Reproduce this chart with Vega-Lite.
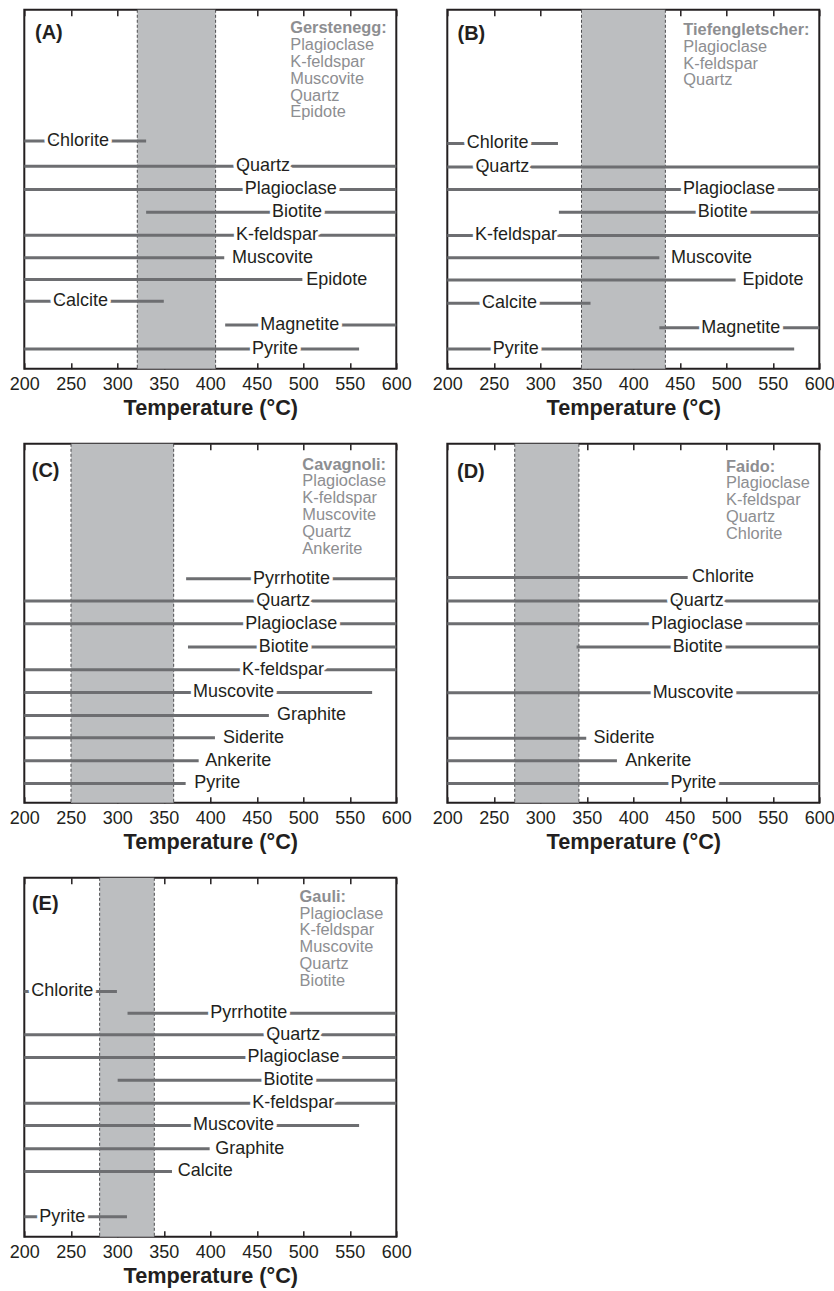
{
  "$schema": "https://vega.github.io/schema/vega-lite/v6.json",
  "background": "white",
  "autosize": {"type": "pad"},
  "padding": {"left": 7.3, "top": 7.8, "right": 0, "bottom": 5},
  "bounds": "flush",
  "columns": 2,
  "spacing": {"row": 75, "column": 51},
  "config": {
    "view": {"stroke": "#231f20", "strokeWidth": 2},
    "font": "Liberation Sans"
  },
  "datasets": {
    "bands": [
      {"panel": "A", "lo": 321.5, "hi": 405.7},
      {"panel": "B", "lo": 344.3, "hi": 434.5},
      {"panel": "C", "lo": 250.2, "hi": 360.6},
      {"panel": "D", "lo": 272.5, "hi": 341.5},
      {"panel": "E", "lo": 281, "hi": 339.8}
    ],
    "tags": [
      {"panel": "A", "tag": "(A)", "tx": 211.5, "ty": 15.02},
      {"panel": "B", "tag": "(B)", "tx": 211, "ty": 14.98},
      {"panel": "C", "tag": "(C)", "tx": 208, "ty": 14.86},
      {"panel": "D", "tag": "(D)", "tx": 210.4, "ty": 14.81},
      {"panel": "E", "tag": "(E)", "tx": 208.2, "ty": 14.89}
    ],
    "legend": [
      {"panel": "A", "head": "Gerstenegg:", "list": "Plagioclase\nK-feldspar\nMuscovite\nQuartz\nEpidote", "lx": 486, "hy": 15.15, "ly": 14.42},
      {"panel": "B", "head": "Tiefengletscher:", "list": "Plagioclase\nK-feldspar\nQuartz", "lx": 453.8, "hy": 15.08, "ly": 14.35},
      {"panel": "C", "head": "Cavagnoli:", "list": "Plagioclase\nK-feldspar\nMuscovite\nQuartz\nAnkerite", "lx": 499, "hy": 15.05, "ly": 14.32},
      {"panel": "D", "head": "Faido:", "list": "Plagioclase\nK-feldspar\nQuartz\nChlorite", "lx": 499.7, "hy": 14.97, "ly": 14.24},
      {"panel": "E", "head": "Gauli:", "list": "Plagioclase\nK-feldspar\nMuscovite\nQuartz\nBiotite", "lx": 496, "hy": 15.13, "ly": 14.4}
    ],
    "rows": [
      {"panel": "A", "mineral": "Chlorite", "slot": 9.91, "start": 200, "end": 331, "lx": 224.4},
      {"panel": "A", "mineral": "Quartz", "slot": 8.81, "start": 200, "end": 600, "lx": 427.6},
      {"panel": "A", "mineral": "Plagioclase", "slot": 7.8, "start": 200, "end": 600, "lx": 437},
      {"panel": "A", "mineral": "Biotite", "slot": 6.81, "start": 331, "end": 600, "lx": 466.3},
      {"panel": "A", "mineral": "K-feldspar", "slot": 5.81, "start": 200, "end": 600, "lx": 427.6},
      {"panel": "A", "mineral": "Muscovite", "slot": 4.83, "start": 200, "end": 415, "lx": 423.3},
      {"panel": "A", "mineral": "Epidote", "slot": 3.88, "start": 200, "end": 499, "lx": 503.2},
      {"panel": "A", "mineral": "Calcite", "slot": 2.94, "start": 200, "end": 350, "lx": 230.8},
      {"panel": "A", "mineral": "Magnetite", "slot": 1.9, "start": 416, "end": 600, "lx": 453.8},
      {"panel": "A", "mineral": "Pyrite", "slot": 0.86, "start": 200, "end": 560, "lx": 444.8},

      {"panel": "B", "mineral": "Chlorite", "slot": 9.8, "start": 200, "end": 319, "lx": 220.8},
      {"panel": "B", "mineral": "Quartz", "slot": 8.78, "start": 200, "end": 600, "lx": 230.2},
      {"panel": "B", "mineral": "Plagioclase", "slot": 7.8, "start": 200, "end": 600, "lx": 453.5},
      {"panel": "B", "mineral": "Biotite", "slot": 6.81, "start": 320, "end": 600, "lx": 469.3},
      {"panel": "B", "mineral": "K-feldspar", "slot": 5.8, "start": 200, "end": 600, "lx": 229.8},
      {"panel": "B", "mineral": "Muscovite", "slot": 4.83, "start": 200, "end": 428, "lx": 440.6},
      {"panel": "B", "mineral": "Epidote", "slot": 3.86, "start": 200, "end": 510, "lx": 517.4},
      {"panel": "B", "mineral": "Calcite", "slot": 2.85, "start": 200, "end": 354, "lx": 237.3},
      {"panel": "B", "mineral": "Magnetite", "slot": 1.78, "start": 428, "end": 600, "lx": 473.2},
      {"panel": "B", "mineral": "Pyrite", "slot": 0.86, "start": 200, "end": 573, "lx": 248.8},

      {"panel": "C", "mineral": "Pyrrhotite", "slot": 9.74, "start": 374, "end": 600, "lx": 445.9},
      {"panel": "C", "mineral": "Quartz", "slot": 8.77, "start": 200, "end": 600, "lx": 449.5},
      {"panel": "C", "mineral": "Plagioclase", "slot": 7.78, "start": 200, "end": 600, "lx": 437.6},
      {"panel": "C", "mineral": "Biotite", "slot": 6.77, "start": 376, "end": 600, "lx": 452},
      {"panel": "C", "mineral": "K-feldspar", "slot": 5.78, "start": 200, "end": 600, "lx": 434},
      {"panel": "C", "mineral": "Muscovite", "slot": 4.8, "start": 200, "end": 574, "lx": 381.4},
      {"panel": "C", "mineral": "Graphite", "slot": 3.8, "start": 200, "end": 463, "lx": 471.7},
      {"panel": "C", "mineral": "Siderite", "slot": 2.83, "start": 200, "end": 405, "lx": 413.6},
      {"panel": "C", "mineral": "Ankerite", "slot": 1.83, "start": 200, "end": 387.5, "lx": 394.6},
      {"panel": "C", "mineral": "Pyrite", "slot": 0.84, "start": 200, "end": 373.5, "lx": 382.8},

      {"panel": "D", "mineral": "Chlorite", "slot": 9.8, "start": 200, "end": 458.5, "lx": 463.2},
      {"panel": "D", "mineral": "Quartz", "slot": 8.77, "start": 200, "end": 600, "lx": 439.1},
      {"panel": "D", "mineral": "Plagioclase", "slot": 7.78, "start": 200, "end": 600, "lx": 419},
      {"panel": "D", "mineral": "Biotite", "slot": 6.77, "start": 339, "end": 600, "lx": 442.4},
      {"panel": "D", "mineral": "Muscovite", "slot": 4.78, "start": 200, "end": 600, "lx": 420.8},
      {"panel": "D", "mineral": "Siderite", "slot": 2.81, "start": 200, "end": 349.4, "lx": 357.3},
      {"panel": "D", "mineral": "Ankerite", "slot": 1.83, "start": 200, "end": 382.4, "lx": 391.4},
      {"panel": "D", "mineral": "Pyrite", "slot": 0.84, "start": 200, "end": 600, "lx": 439.9},

      {"panel": "E", "mineral": "Chlorite", "slot": 10.67, "start": 200, "end": 299.6, "lx": 207.5},
      {"panel": "E", "mineral": "Pyrrhotite", "slot": 9.72, "start": 311, "end": 600, "lx": 400},
      {"panel": "E", "mineral": "Quartz", "slot": 8.78, "start": 200, "end": 600, "lx": 460.2},
      {"panel": "E", "mineral": "Plagioclase", "slot": 7.8, "start": 200, "end": 600, "lx": 440.1},
      {"panel": "E", "mineral": "Biotite", "slot": 6.81, "start": 300.4, "end": 600, "lx": 457.3},
      {"panel": "E", "mineral": "K-feldspar", "slot": 5.81, "start": 200, "end": 600, "lx": 445.2},
      {"panel": "E", "mineral": "Muscovite", "slot": 4.84, "start": 200, "end": 560, "lx": 381.4},
      {"panel": "E", "mineral": "Graphite", "slot": 3.83, "start": 200, "end": 399.3, "lx": 405.4},
      {"panel": "E", "mineral": "Calcite", "slot": 2.84, "start": 200, "end": 358.8, "lx": 364.9},
      {"panel": "E", "mineral": "Pyrite", "slot": 0.87, "start": 200, "end": 310.4, "lx": 216.1}
    ]
  },
  "concat": [
    {
      "width": 372, "height": 359,
      "layer": [
        {"data": {"name": "bands"}, "transform": [{"filter": "datum.panel === 'A'"}],
         "mark": {"type": "rect", "color": "#bcbec0"},
         "encoding": {"x": {"field": "lo", "type": "quantitative", "scale": {"domain": [200, 600], "nice": false, "zero": false},
           "axis": {"orient": "top", "values": [200, 250, 300, 350, 400, 450, 500, 550, 600], "labels": false, "title": null, "domain": false, "grid": false, "tickSize": -6, "tickWidth": 1.5, "tickColor": "#231f20"}},
           "x2": {"field": "hi"}}},
        {"data": {"name": "bands"}, "transform": [{"filter": "datum.panel === 'A'"}],
         "mark": {"type": "rule", "color": "#4d4d4f", "strokeWidth": 1, "strokeDash": [3, 2]},
         "encoding": {"x": {"field": "lo", "type": "quantitative", "axis": null}}},
        {"data": {"name": "bands"}, "transform": [{"filter": "datum.panel === 'A'"}],
         "mark": {"type": "rule", "color": "#4d4d4f", "strokeWidth": 1, "strokeDash": [3, 2]},
         "encoding": {"x": {"field": "hi", "type": "quantitative", "axis": null}}},
        {"data": {"name": "rows"}, "transform": [{"filter": "datum.panel === 'A'"}],
         "mark": {"type": "rule", "color": "#6d6e71", "strokeWidth": 3},
         "encoding": {"x": {"field": "start", "type": "quantitative", "scale": {"domain": [200, 600], "nice": false, "zero": false},
           "axis": {"orient": "bottom", "values": [200, 250, 300, 350, 400, 450, 500, 550, 600], "domain": false, "grid": false, "tickSize": -6, "tickWidth": 1.5, "tickColor": "#231f20", "labelFont": "Liberation Sans", "labelFontSize": 18, "labelColor": "#231f20", "labelPadding": 13, "labelFlush": false, "labelOverlap": false, "title": "Temperature (°C)", "titleFont": "Liberation Sans", "titleFontSize": 21.7, "titleFontWeight": "bold", "titleColor": "#231f20", "titlePadding": 4}},
           "x2": {"field": "end"},
           "y": {"field": "slot", "type": "quantitative", "scale": {"domain": [0, 15.61], "nice": false, "zero": false}, "axis": null}}},
        {"data": {"name": "rows"}, "transform": [{"filter": "datum.panel === 'A'"}],
         "mark": {"type": "text", "align": "left", "baseline": "middle", "font": "Liberation Sans", "fontSize": 18, "fill": "white", "stroke": "white", "strokeWidth": 7, "strokeJoin": "round"},
         "encoding": {"x": {"field": "lx", "type": "quantitative", "axis": null}, "y": {"field": "slot", "type": "quantitative", "axis": null}, "text": {"field": "mineral"}}},
        {"data": {"name": "rows"}, "transform": [{"filter": "datum.panel === 'A'"}],
         "mark": {"type": "text", "align": "left", "baseline": "middle", "font": "Liberation Sans", "fontSize": 18, "color": "#231f20"},
         "encoding": {"x": {"field": "lx", "type": "quantitative", "axis": null}, "y": {"field": "slot", "type": "quantitative", "axis": null}, "text": {"field": "mineral"}}},
        {"data": {"name": "tags"}, "transform": [{"filter": "datum.panel === 'A'"}],
         "mark": {"type": "text", "align": "left", "baseline": "top", "font": "Liberation Sans", "fontSize": 20, "fontWeight": "bold", "color": "#231f20"},
         "encoding": {"x": {"field": "tx", "type": "quantitative", "axis": null}, "y": {"field": "ty", "type": "quantitative", "axis": null}, "text": {"field": "tag"}}},
        {"data": {"name": "legend"}, "transform": [{"filter": "datum.panel === 'A'"}],
         "mark": {"type": "text", "align": "left", "baseline": "top", "font": "Liberation Sans", "fontSize": 16.4, "fontWeight": "bold", "color": "#8d8e91"},
         "encoding": {"x": {"field": "lx", "type": "quantitative", "axis": null}, "y": {"field": "hy", "type": "quantitative", "axis": null}, "text": {"field": "head"}}},
        {"data": {"name": "legend"}, "transform": [{"filter": "datum.panel === 'A'"}],
         "mark": {"type": "text", "align": "left", "baseline": "top", "font": "Liberation Sans", "fontSize": 16.4, "color": "#8d8e91", "lineBreak": "\n", "lineHeight": 16.8},
         "encoding": {"x": {"field": "lx", "type": "quantitative", "axis": null}, "y": {"field": "ly", "type": "quantitative", "axis": null}, "text": {"field": "list"}}}
      ],
      "resolve": {"axis": {"x": "independent", "y": "independent"}}
    },
    {
      "width": 372, "height": 359,
      "layer": [
        {"data": {"name": "bands"}, "transform": [{"filter": "datum.panel === 'B'"}],
         "mark": {"type": "rect", "color": "#bcbec0"},
         "encoding": {"x": {"field": "lo", "type": "quantitative", "scale": {"domain": [200, 600], "nice": false, "zero": false},
           "axis": {"orient": "top", "values": [200, 250, 300, 350, 400, 450, 500, 550, 600], "labels": false, "title": null, "domain": false, "grid": false, "tickSize": -6, "tickWidth": 1.5, "tickColor": "#231f20"}},
           "x2": {"field": "hi"}}},
        {"data": {"name": "bands"}, "transform": [{"filter": "datum.panel === 'B'"}],
         "mark": {"type": "rule", "color": "#4d4d4f", "strokeWidth": 1, "strokeDash": [3, 2]},
         "encoding": {"x": {"field": "lo", "type": "quantitative", "axis": null}}},
        {"data": {"name": "bands"}, "transform": [{"filter": "datum.panel === 'B'"}],
         "mark": {"type": "rule", "color": "#4d4d4f", "strokeWidth": 1, "strokeDash": [3, 2]},
         "encoding": {"x": {"field": "hi", "type": "quantitative", "axis": null}}},
        {"data": {"name": "rows"}, "transform": [{"filter": "datum.panel === 'B'"}],
         "mark": {"type": "rule", "color": "#6d6e71", "strokeWidth": 3},
         "encoding": {"x": {"field": "start", "type": "quantitative", "scale": {"domain": [200, 600], "nice": false, "zero": false},
           "axis": {"orient": "bottom", "values": [200, 250, 300, 350, 400, 450, 500, 550, 600], "domain": false, "grid": false, "tickSize": -6, "tickWidth": 1.5, "tickColor": "#231f20", "labelFont": "Liberation Sans", "labelFontSize": 18, "labelColor": "#231f20", "labelPadding": 13, "labelFlush": false, "labelOverlap": false, "title": "Temperature (°C)", "titleFont": "Liberation Sans", "titleFontSize": 21.7, "titleFontWeight": "bold", "titleColor": "#231f20", "titlePadding": 4}},
           "x2": {"field": "end"},
           "y": {"field": "slot", "type": "quantitative", "scale": {"domain": [0, 15.61], "nice": false, "zero": false}, "axis": null}}},
        {"data": {"name": "rows"}, "transform": [{"filter": "datum.panel === 'B'"}],
         "mark": {"type": "text", "align": "left", "baseline": "middle", "font": "Liberation Sans", "fontSize": 18, "fill": "white", "stroke": "white", "strokeWidth": 7, "strokeJoin": "round"},
         "encoding": {"x": {"field": "lx", "type": "quantitative", "axis": null}, "y": {"field": "slot", "type": "quantitative", "axis": null}, "text": {"field": "mineral"}}},
        {"data": {"name": "rows"}, "transform": [{"filter": "datum.panel === 'B'"}],
         "mark": {"type": "text", "align": "left", "baseline": "middle", "font": "Liberation Sans", "fontSize": 18, "color": "#231f20"},
         "encoding": {"x": {"field": "lx", "type": "quantitative", "axis": null}, "y": {"field": "slot", "type": "quantitative", "axis": null}, "text": {"field": "mineral"}}},
        {"data": {"name": "tags"}, "transform": [{"filter": "datum.panel === 'B'"}],
         "mark": {"type": "text", "align": "left", "baseline": "top", "font": "Liberation Sans", "fontSize": 20, "fontWeight": "bold", "color": "#231f20"},
         "encoding": {"x": {"field": "tx", "type": "quantitative", "axis": null}, "y": {"field": "ty", "type": "quantitative", "axis": null}, "text": {"field": "tag"}}},
        {"data": {"name": "legend"}, "transform": [{"filter": "datum.panel === 'B'"}],
         "mark": {"type": "text", "align": "left", "baseline": "top", "font": "Liberation Sans", "fontSize": 16.4, "fontWeight": "bold", "color": "#8d8e91"},
         "encoding": {"x": {"field": "lx", "type": "quantitative", "axis": null}, "y": {"field": "hy", "type": "quantitative", "axis": null}, "text": {"field": "head"}}},
        {"data": {"name": "legend"}, "transform": [{"filter": "datum.panel === 'B'"}],
         "mark": {"type": "text", "align": "left", "baseline": "top", "font": "Liberation Sans", "fontSize": 16.4, "color": "#8d8e91", "lineBreak": "\n", "lineHeight": 16.8},
         "encoding": {"x": {"field": "lx", "type": "quantitative", "axis": null}, "y": {"field": "ly", "type": "quantitative", "axis": null}, "text": {"field": "list"}}}
      ],
      "resolve": {"axis": {"x": "independent", "y": "independent"}}
    },
    {
      "width": 372, "height": 359,
      "layer": [
        {"data": {"name": "bands"}, "transform": [{"filter": "datum.panel === 'C'"}],
         "mark": {"type": "rect", "color": "#bcbec0"},
         "encoding": {"x": {"field": "lo", "type": "quantitative", "scale": {"domain": [200, 600], "nice": false, "zero": false},
           "axis": {"orient": "top", "values": [200, 250, 300, 350, 400, 450, 500, 550, 600], "labels": false, "title": null, "domain": false, "grid": false, "tickSize": -6, "tickWidth": 1.5, "tickColor": "#231f20"}},
           "x2": {"field": "hi"}}},
        {"data": {"name": "bands"}, "transform": [{"filter": "datum.panel === 'C'"}],
         "mark": {"type": "rule", "color": "#4d4d4f", "strokeWidth": 1, "strokeDash": [3, 2]},
         "encoding": {"x": {"field": "lo", "type": "quantitative", "axis": null}}},
        {"data": {"name": "bands"}, "transform": [{"filter": "datum.panel === 'C'"}],
         "mark": {"type": "rule", "color": "#4d4d4f", "strokeWidth": 1, "strokeDash": [3, 2]},
         "encoding": {"x": {"field": "hi", "type": "quantitative", "axis": null}}},
        {"data": {"name": "rows"}, "transform": [{"filter": "datum.panel === 'C'"}],
         "mark": {"type": "rule", "color": "#6d6e71", "strokeWidth": 3},
         "encoding": {"x": {"field": "start", "type": "quantitative", "scale": {"domain": [200, 600], "nice": false, "zero": false},
           "axis": {"orient": "bottom", "values": [200, 250, 300, 350, 400, 450, 500, 550, 600], "domain": false, "grid": false, "tickSize": -6, "tickWidth": 1.5, "tickColor": "#231f20", "labelFont": "Liberation Sans", "labelFontSize": 18, "labelColor": "#231f20", "labelPadding": 13, "labelFlush": false, "labelOverlap": false, "title": "Temperature (°C)", "titleFont": "Liberation Sans", "titleFontSize": 21.7, "titleFontWeight": "bold", "titleColor": "#231f20", "titlePadding": 4}},
           "x2": {"field": "end"},
           "y": {"field": "slot", "type": "quantitative", "scale": {"domain": [0, 15.61], "nice": false, "zero": false}, "axis": null}}},
        {"data": {"name": "rows"}, "transform": [{"filter": "datum.panel === 'C'"}],
         "mark": {"type": "text", "align": "left", "baseline": "middle", "font": "Liberation Sans", "fontSize": 18, "fill": "white", "stroke": "white", "strokeWidth": 7, "strokeJoin": "round"},
         "encoding": {"x": {"field": "lx", "type": "quantitative", "axis": null}, "y": {"field": "slot", "type": "quantitative", "axis": null}, "text": {"field": "mineral"}}},
        {"data": {"name": "rows"}, "transform": [{"filter": "datum.panel === 'C'"}],
         "mark": {"type": "text", "align": "left", "baseline": "middle", "font": "Liberation Sans", "fontSize": 18, "color": "#231f20"},
         "encoding": {"x": {"field": "lx", "type": "quantitative", "axis": null}, "y": {"field": "slot", "type": "quantitative", "axis": null}, "text": {"field": "mineral"}}},
        {"data": {"name": "tags"}, "transform": [{"filter": "datum.panel === 'C'"}],
         "mark": {"type": "text", "align": "left", "baseline": "top", "font": "Liberation Sans", "fontSize": 20, "fontWeight": "bold", "color": "#231f20"},
         "encoding": {"x": {"field": "tx", "type": "quantitative", "axis": null}, "y": {"field": "ty", "type": "quantitative", "axis": null}, "text": {"field": "tag"}}},
        {"data": {"name": "legend"}, "transform": [{"filter": "datum.panel === 'C'"}],
         "mark": {"type": "text", "align": "left", "baseline": "top", "font": "Liberation Sans", "fontSize": 16.4, "fontWeight": "bold", "color": "#8d8e91"},
         "encoding": {"x": {"field": "lx", "type": "quantitative", "axis": null}, "y": {"field": "hy", "type": "quantitative", "axis": null}, "text": {"field": "head"}}},
        {"data": {"name": "legend"}, "transform": [{"filter": "datum.panel === 'C'"}],
         "mark": {"type": "text", "align": "left", "baseline": "top", "font": "Liberation Sans", "fontSize": 16.4, "color": "#8d8e91", "lineBreak": "\n", "lineHeight": 16.8},
         "encoding": {"x": {"field": "lx", "type": "quantitative", "axis": null}, "y": {"field": "ly", "type": "quantitative", "axis": null}, "text": {"field": "list"}}}
      ],
      "resolve": {"axis": {"x": "independent", "y": "independent"}}
    },
    {
      "width": 372, "height": 359,
      "layer": [
        {"data": {"name": "bands"}, "transform": [{"filter": "datum.panel === 'D'"}],
         "mark": {"type": "rect", "color": "#bcbec0"},
         "encoding": {"x": {"field": "lo", "type": "quantitative", "scale": {"domain": [200, 600], "nice": false, "zero": false},
           "axis": {"orient": "top", "values": [200, 250, 300, 350, 400, 450, 500, 550, 600], "labels": false, "title": null, "domain": false, "grid": false, "tickSize": -6, "tickWidth": 1.5, "tickColor": "#231f20"}},
           "x2": {"field": "hi"}}},
        {"data": {"name": "bands"}, "transform": [{"filter": "datum.panel === 'D'"}],
         "mark": {"type": "rule", "color": "#4d4d4f", "strokeWidth": 1, "strokeDash": [3, 2]},
         "encoding": {"x": {"field": "lo", "type": "quantitative", "axis": null}}},
        {"data": {"name": "bands"}, "transform": [{"filter": "datum.panel === 'D'"}],
         "mark": {"type": "rule", "color": "#4d4d4f", "strokeWidth": 1, "strokeDash": [3, 2]},
         "encoding": {"x": {"field": "hi", "type": "quantitative", "axis": null}}},
        {"data": {"name": "rows"}, "transform": [{"filter": "datum.panel === 'D'"}],
         "mark": {"type": "rule", "color": "#6d6e71", "strokeWidth": 3},
         "encoding": {"x": {"field": "start", "type": "quantitative", "scale": {"domain": [200, 600], "nice": false, "zero": false},
           "axis": {"orient": "bottom", "values": [200, 250, 300, 350, 400, 450, 500, 550, 600], "domain": false, "grid": false, "tickSize": -6, "tickWidth": 1.5, "tickColor": "#231f20", "labelFont": "Liberation Sans", "labelFontSize": 18, "labelColor": "#231f20", "labelPadding": 13, "labelFlush": false, "labelOverlap": false, "title": "Temperature (°C)", "titleFont": "Liberation Sans", "titleFontSize": 21.7, "titleFontWeight": "bold", "titleColor": "#231f20", "titlePadding": 4}},
           "x2": {"field": "end"},
           "y": {"field": "slot", "type": "quantitative", "scale": {"domain": [0, 15.61], "nice": false, "zero": false}, "axis": null}}},
        {"data": {"name": "rows"}, "transform": [{"filter": "datum.panel === 'D'"}],
         "mark": {"type": "text", "align": "left", "baseline": "middle", "font": "Liberation Sans", "fontSize": 18, "fill": "white", "stroke": "white", "strokeWidth": 7, "strokeJoin": "round"},
         "encoding": {"x": {"field": "lx", "type": "quantitative", "axis": null}, "y": {"field": "slot", "type": "quantitative", "axis": null}, "text": {"field": "mineral"}}},
        {"data": {"name": "rows"}, "transform": [{"filter": "datum.panel === 'D'"}],
         "mark": {"type": "text", "align": "left", "baseline": "middle", "font": "Liberation Sans", "fontSize": 18, "color": "#231f20"},
         "encoding": {"x": {"field": "lx", "type": "quantitative", "axis": null}, "y": {"field": "slot", "type": "quantitative", "axis": null}, "text": {"field": "mineral"}}},
        {"data": {"name": "tags"}, "transform": [{"filter": "datum.panel === 'D'"}],
         "mark": {"type": "text", "align": "left", "baseline": "top", "font": "Liberation Sans", "fontSize": 20, "fontWeight": "bold", "color": "#231f20"},
         "encoding": {"x": {"field": "tx", "type": "quantitative", "axis": null}, "y": {"field": "ty", "type": "quantitative", "axis": null}, "text": {"field": "tag"}}},
        {"data": {"name": "legend"}, "transform": [{"filter": "datum.panel === 'D'"}],
         "mark": {"type": "text", "align": "left", "baseline": "top", "font": "Liberation Sans", "fontSize": 16.4, "fontWeight": "bold", "color": "#8d8e91"},
         "encoding": {"x": {"field": "lx", "type": "quantitative", "axis": null}, "y": {"field": "hy", "type": "quantitative", "axis": null}, "text": {"field": "head"}}},
        {"data": {"name": "legend"}, "transform": [{"filter": "datum.panel === 'D'"}],
         "mark": {"type": "text", "align": "left", "baseline": "top", "font": "Liberation Sans", "fontSize": 16.4, "color": "#8d8e91", "lineBreak": "\n", "lineHeight": 16.8},
         "encoding": {"x": {"field": "lx", "type": "quantitative", "axis": null}, "y": {"field": "ly", "type": "quantitative", "axis": null}, "text": {"field": "list"}}}
      ],
      "resolve": {"axis": {"x": "independent", "y": "independent"}}
    },
    {
      "width": 372, "height": 359,
      "layer": [
        {"data": {"name": "bands"}, "transform": [{"filter": "datum.panel === 'E'"}],
         "mark": {"type": "rect", "color": "#bcbec0"},
         "encoding": {"x": {"field": "lo", "type": "quantitative", "scale": {"domain": [200, 600], "nice": false, "zero": false},
           "axis": {"orient": "top", "values": [200, 250, 300, 350, 400, 450, 500, 550, 600], "labels": false, "title": null, "domain": false, "grid": false, "tickSize": -6, "tickWidth": 1.5, "tickColor": "#231f20"}},
           "x2": {"field": "hi"}}},
        {"data": {"name": "bands"}, "transform": [{"filter": "datum.panel === 'E'"}],
         "mark": {"type": "rule", "color": "#4d4d4f", "strokeWidth": 1, "strokeDash": [3, 2]},
         "encoding": {"x": {"field": "lo", "type": "quantitative", "axis": null}}},
        {"data": {"name": "bands"}, "transform": [{"filter": "datum.panel === 'E'"}],
         "mark": {"type": "rule", "color": "#4d4d4f", "strokeWidth": 1, "strokeDash": [3, 2]},
         "encoding": {"x": {"field": "hi", "type": "quantitative", "axis": null}}},
        {"data": {"name": "rows"}, "transform": [{"filter": "datum.panel === 'E'"}],
         "mark": {"type": "rule", "color": "#6d6e71", "strokeWidth": 3},
         "encoding": {"x": {"field": "start", "type": "quantitative", "scale": {"domain": [200, 600], "nice": false, "zero": false},
           "axis": {"orient": "bottom", "values": [200, 250, 300, 350, 400, 450, 500, 550, 600], "domain": false, "grid": false, "tickSize": -6, "tickWidth": 1.5, "tickColor": "#231f20", "labelFont": "Liberation Sans", "labelFontSize": 18, "labelColor": "#231f20", "labelPadding": 13, "labelFlush": false, "labelOverlap": false, "title": "Temperature (°C)", "titleFont": "Liberation Sans", "titleFontSize": 21.7, "titleFontWeight": "bold", "titleColor": "#231f20", "titlePadding": 4}},
           "x2": {"field": "end"},
           "y": {"field": "slot", "type": "quantitative", "scale": {"domain": [0, 15.61], "nice": false, "zero": false}, "axis": null}}},
        {"data": {"name": "rows"}, "transform": [{"filter": "datum.panel === 'E'"}],
         "mark": {"type": "text", "align": "left", "baseline": "middle", "font": "Liberation Sans", "fontSize": 18, "fill": "white", "stroke": "white", "strokeWidth": 7, "strokeJoin": "round"},
         "encoding": {"x": {"field": "lx", "type": "quantitative", "axis": null}, "y": {"field": "slot", "type": "quantitative", "axis": null}, "text": {"field": "mineral"}}},
        {"data": {"name": "rows"}, "transform": [{"filter": "datum.panel === 'E'"}],
         "mark": {"type": "text", "align": "left", "baseline": "middle", "font": "Liberation Sans", "fontSize": 18, "color": "#231f20"},
         "encoding": {"x": {"field": "lx", "type": "quantitative", "axis": null}, "y": {"field": "slot", "type": "quantitative", "axis": null}, "text": {"field": "mineral"}}},
        {"data": {"name": "tags"}, "transform": [{"filter": "datum.panel === 'E'"}],
         "mark": {"type": "text", "align": "left", "baseline": "top", "font": "Liberation Sans", "fontSize": 20, "fontWeight": "bold", "color": "#231f20"},
         "encoding": {"x": {"field": "tx", "type": "quantitative", "axis": null}, "y": {"field": "ty", "type": "quantitative", "axis": null}, "text": {"field": "tag"}}},
        {"data": {"name": "legend"}, "transform": [{"filter": "datum.panel === 'E'"}],
         "mark": {"type": "text", "align": "left", "baseline": "top", "font": "Liberation Sans", "fontSize": 16.4, "fontWeight": "bold", "color": "#8d8e91"},
         "encoding": {"x": {"field": "lx", "type": "quantitative", "axis": null}, "y": {"field": "hy", "type": "quantitative", "axis": null}, "text": {"field": "head"}}},
        {"data": {"name": "legend"}, "transform": [{"filter": "datum.panel === 'E'"}],
         "mark": {"type": "text", "align": "left", "baseline": "top", "font": "Liberation Sans", "fontSize": 16.4, "color": "#8d8e91", "lineBreak": "\n", "lineHeight": 16.8},
         "encoding": {"x": {"field": "lx", "type": "quantitative", "axis": null}, "y": {"field": "ly", "type": "quantitative", "axis": null}, "text": {"field": "list"}}}
      ],
      "resolve": {"axis": {"x": "independent", "y": "independent"}}
    }
  ]
}
